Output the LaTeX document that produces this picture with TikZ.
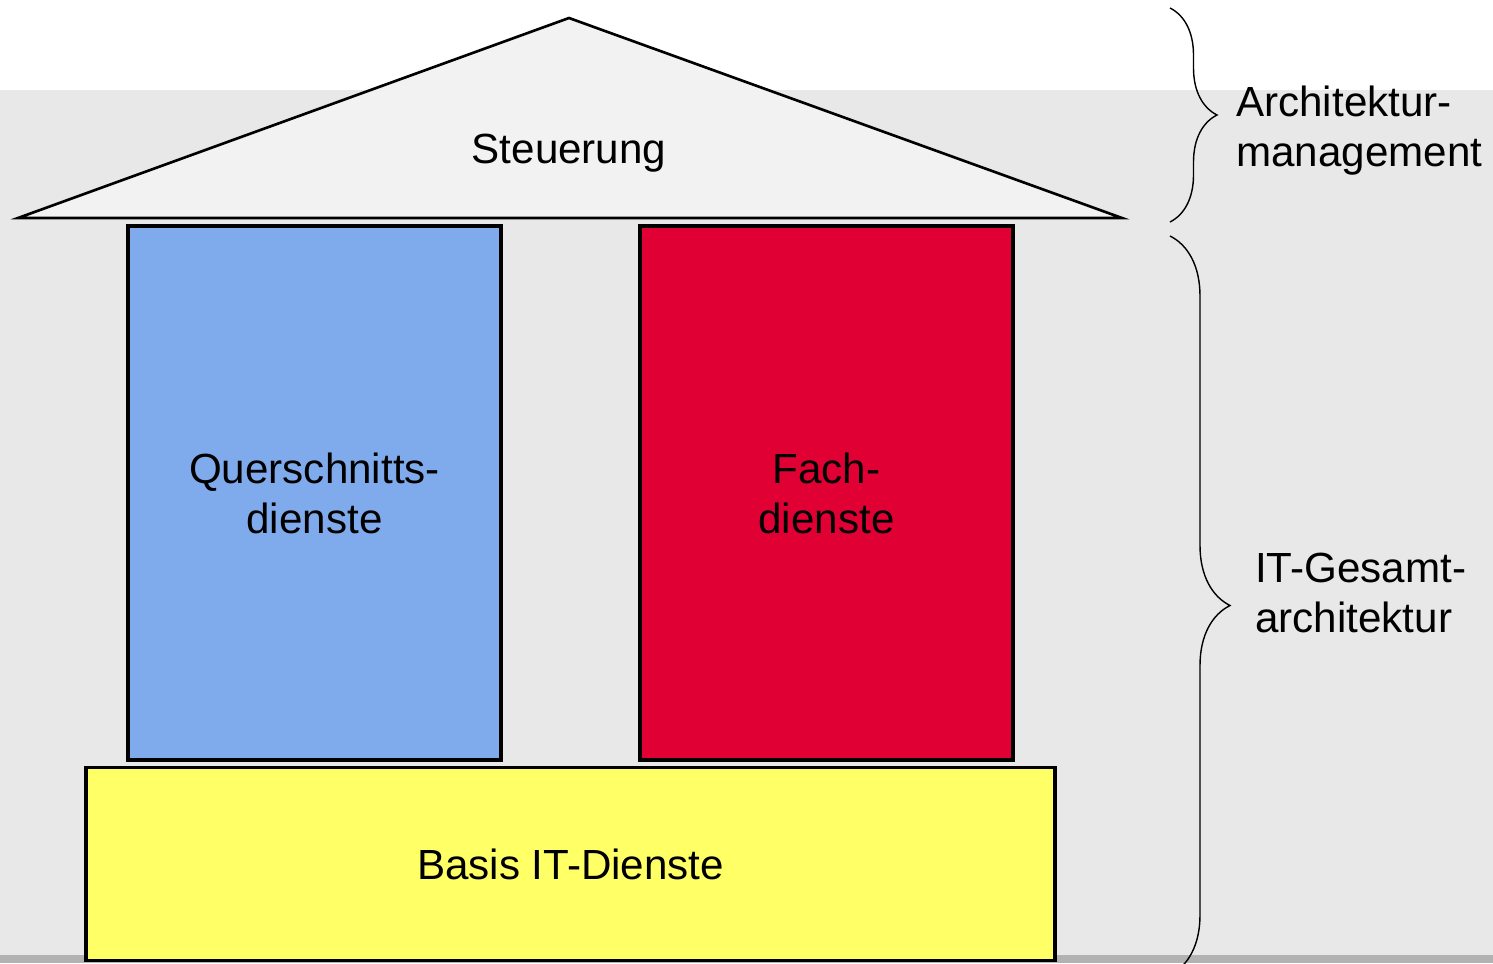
\documentclass[tikz,border=0pt]{standalone}
\usepackage{fontspec}
\setmainfont{Liberation Sans}
\usetikzlibrary{positioning, decorations.pathreplacing}

\definecolor{bggray}{HTML}{E8E8E8}
\definecolor{roofgray}{HTML}{F2F2F2}
\definecolor{qblue}{HTML}{7FAAEB}
\definecolor{fred}{HTML}{E00034}
\definecolor{byellow}{HTML}{FFFF66}

\begin{document}
\begin{tikzpicture}[x=0.02cm, y=-0.02cm,
    every node/.style={font=\fontsize{24}{28.5}\selectfont, align=center},
    box/.style={draw, rectangle, line width=2pt, inner sep=0pt},
    pillar/.style={box, minimum width=7.46cm, minimum height=10.68cm},
    curly/.style={decorate, line width=0.8pt}]
    % background
    \fill[white] (0,0) rectangle (1493,963);
    \fill[bggray] (0,90) rectangle (1493,963);
    \fill[black!30] (0,955) rectangle (1493,963);
    \useasboundingbox (0,0) rectangle (1493,963);

    % roof
    \draw[fill=roofgray, line width=1.5pt]
        (569,18) -- (1122,218) -- (18,218) -- cycle;
    \node (steuerung) at (569,153) {Steuerung};

    % pillars and base
    \node[pillar, fill=qblue] (quer) at (314.5,493) {Querschnitts-\\dienste};
    \node[pillar, fill=fred] (fach) at (826.5,493) {Fach-\\dienste};
    \node[box, fill=byellow, minimum width=19.38cm, minimum height=3.86cm] (basis) at (570.5,864) {Basis IT-Dienste};

    % braces
    \coordinate (b1top) at (1170,8);
    \coordinate (b1bot) at (1170,222);
    \coordinate (b2top) at (1170,236);
    \coordinate (b2bot) at (1170,975);
    \draw[curly, decoration={brace, amplitude=0.94cm}] (b1top) -- (b1bot);
    \draw[curly, decoration={brace, amplitude=1.2cm}] (b2top) -- (b2bot);
    \node[anchor=west, align=left] (archmgmt) at (1230,131) {Architektur-\\management};
    \node[anchor=west, align=left] (itgesamt) at (1249,593) {IT-Gesamt-\\architektur};
\end{tikzpicture}
\end{document}
